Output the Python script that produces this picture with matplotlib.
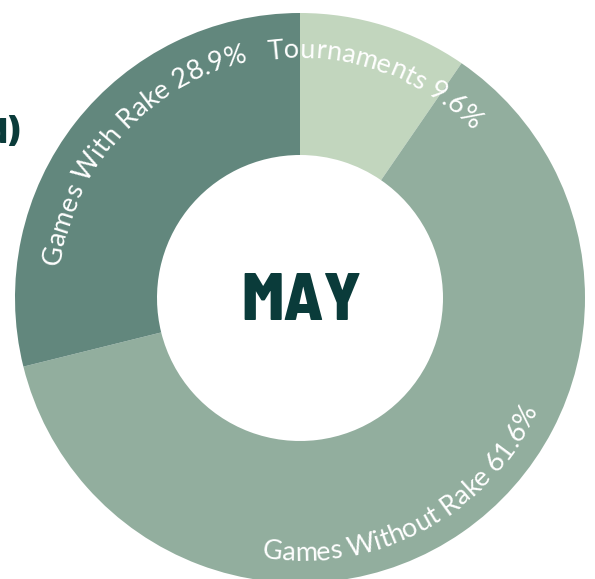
import matplotlib
matplotlib.use("Agg")
import matplotlib.pyplot as plt
import numpy as np
from matplotlib import font_manager
from matplotlib.font_manager import FontProperties

categories = ["Tournaments", "Games Without Rake", "Games With Rake"]
values = [9.6, 61.6, 28.9]
center_label = "MAY"
side_text = "d)"

colors = ["#C2D6BE", "#92AE9E", "#62877D"]
dark = "#0A3B3A"

W, H = 595, 579
fig = plt.figure(figsize=(W / 100, H / 100), dpi=100)
ax = fig.add_axes([0, 0, 1, 1])
cx, cy = 300, H - 298
R_out, R_in = 285, 143

wedges, _ = ax.pie(values, colors=colors, startangle=90, counterclock=False,
                   radius=R_out, center=(cx, cy),
                   wedgeprops=dict(width=R_out - R_in, linewidth=0))
ax.set_xlim(0, W)
ax.set_ylim(0, H)
ax.set_aspect("equal")
ax.axis("off")

names = {f.name for f in font_manager.fontManager.ttflist}
label_family = "Lato" if "Lato" in names else "DejaVu Sans"
fp = FontProperties(family=label_family, size=19.5)
head_family = "Barlow Semi Condensed" if "Barlow Semi Condensed" in names else "DejaVu Sans"

renderer = fig.canvas.get_renderer()


def adv(s):
    if not s:
        return 0.0
    w1 = renderer.get_text_width_height_descent(s + "l", fp, ismath=False)[0]
    w0 = renderer.get_text_width_height_descent("l", fp, ismath=False)[0]
    return w1 - w0


def curved(text, phi_c_deg, r, inward_top):
    widths = [adv(text[:i]) for i in range(len(text) + 1)]
    L = widths[-1]
    for i, ch in enumerate(text):
        if ch == " ":
            continue
        s = (widths[i] + widths[i + 1]) / 2 - L / 2
        if not inward_top:
            phi = np.radians(phi_c_deg) - s / r
            rot = np.degrees(phi) - 90
        else:
            phi = np.radians(phi_c_deg) + s / r
            rot = np.degrees(phi) + 90
        x = cx + r * np.cos(phi)
        y = cy + r * np.sin(phi)
        ax.text(x, y, ch, rotation=rot, rotation_mode="anchor", ha="center",
                va="baseline", fontproperties=fp, color="white")


# label placement: (angle shift from wedge middle, baseline radius, inward)
label_style = {
    "Tournaments": (2.0, 240, False),
    "Games Without Rake": (6.5, 263, True),
    "Games With Rake": (4.5, 242, False),
}
for w, cat, v in zip(wedges, categories, values):
    mid = (w.theta1 + w.theta2) / 2
    shift, r, inward = label_style[cat]
    txt = f"{cat} {v:.1f}%"
    curved(txt, mid - shift, r, inward)

# center label
cfp = FontProperties(family=head_family, weight=800, size=48)
ax.text(cx + 1, H - 320, center_label, ha="center", va="baseline",
        fontproperties=cfp, color=dark)

ax.text(20, H - 143, side_text, ha="right", va="baseline",
        fontproperties=FontProperties(family=head_family, weight=800, size=26),
        color=dark)

fig.savefig("out.png", dpi=100)
